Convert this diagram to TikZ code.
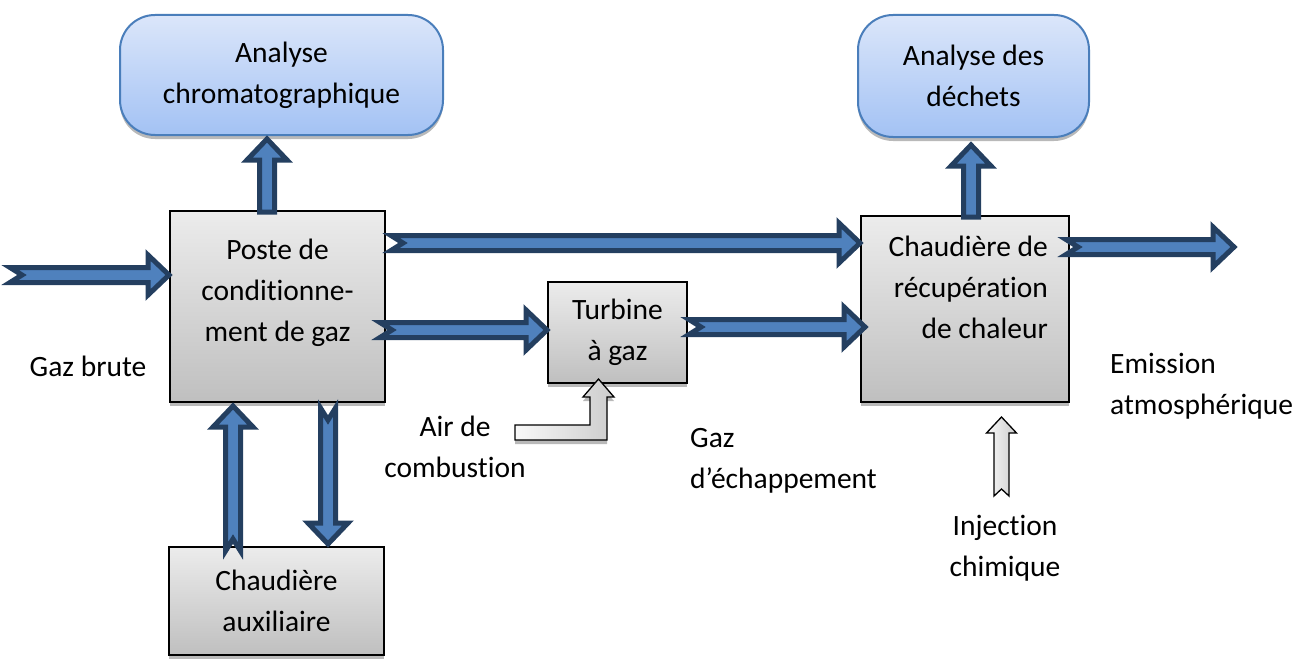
\documentclass[tikz,border=0pt]{standalone}
\usepackage{fontspec}
\setmainfont{Carlito}[Ligatures=NoCommon]
\usetikzlibrary{calc,shadows}

\definecolor{flowfill}{HTML}{4F81BD}
\definecolor{flowline}{HTML}{243F60}
\definecolor{labline}{HTML}{4A7EBB}
\definecolor{labtop}{HTML}{DBE6FA}
\definecolor{labbot}{HTML}{A3C2F4}

\tikzset{
  blockpath/.style n args={4}{to path={
    ($(\tikztostart)!#1!90:(\tikztotarget)$)
    -- ($($(\tikztotarget)!#3!(\tikztostart)$)!#1!90:(\tikztotarget)$)
    -- ($($(\tikztotarget)!#3!(\tikztostart)$)!#2!90:(\tikztotarget)$)
    -- (\tikztotarget)
    -- ($($(\tikztotarget)!#3!(\tikztostart)$)!#2!-90:(\tikztotarget)$)
    -- ($($(\tikztotarget)!#3!(\tikztostart)$)!#1!-90:(\tikztotarget)$)
    -- ($(\tikztostart)!#1!-90:(\tikztotarget)$)
    -- ($(\tikztostart)!#4!(\tikztotarget)$)
    -- cycle}},
  flow/.style={blockpath={7.5pt}{20pt}{21pt}{#1},
    draw=flowline, line width=5pt, fill=flowfill},
  flow/.default=12pt,
  feed/.style={draw=black, line width=1.3pt, left color=gray!5, right color=gray!40},
  feedarrow/.style={feed, blockpath={7.5pt}{15pt}{16pt}{7pt}},
  boxshadow/.style={drop shadow={shadow xshift=0pt, shadow yshift=-4pt, fill=gray!55, opacity=1}},
  procbox/.style={draw=black, line width=2pt, top color=gray!15, bottom color=gray!50, boxshadow},
  labbox/.style={draw=labline, line width=2pt, rounded corners=35pt,
    top color=labtop, bottom color=labbot, boxshadow, align=center},
}

\begin{document}
\begin{tikzpicture}[x=1pt, y=-1pt, font=\fontsize{29.5}{41}\selectfont]
\useasboundingbox (0,0) rectangle (1305,658);

% analyses
\node[labbox, minimum width=323pt, minimum height=120pt] (chromato) at (281.5,75) {Analyse\\chromatographique};
\node[labbox, minimum width=231pt, minimum height=122pt] (dechets) at (973.5,76) {Analyse des\\déchets};

% process blocks
\node[procbox, minimum width=215pt, minimum height=191pt] (poste) at (277.5,306.5) {};
\node[align=center] (poste-txt) at (277.5,293) {Poste de\\conditionne-\\ment de gaz};
\node[procbox, minimum width=139pt, minimum height=101pt, align=center] (turbine) at (617.5,332.5) {Turbine\\à gaz};
\node[procbox, minimum width=208pt, minimum height=186pt] (chaudiere) at (965,309) {};
\node[align=right, anchor=east, inner sep=0pt] (chaudiere-txt) at (1048,287) {Chaudière de\\récupération\\de chaleur};
\node[procbox, minimum width=215pt, minimum height=108pt, align=center] (auxiliaire) at (276.5,601) {Chaudière\\auxiliaire};

% free labels
\node (gaz-brute) at (88,366) {Gaz brute};
\node[align=center] (air-txt) at (455,447) {Air de\\combustion};
\node[align=left, anchor=west, inner sep=0pt] (echap-txt) at (690,461) {Gaz\\d’échappement};
\node[align=left, anchor=west, inner sep=0pt] (emission-txt) at (1110,386) {Emission\\atmosphérique};
\node[align=center] (injection-txt) at (1005,548) {Injection\\chimique};

% gas flows
\coordinate (gaz-in) at (10,275);
\coordinate (poste-in) at (poste.west |- gaz-in);
\draw[flow] (gaz-in) to (poste-in);

\coordinate (poste-top) at (267,212);
\coordinate (chromato-in) at (267,139);
\draw[flow=0pt] (poste-top) to (chromato-in);

\coordinate (poste-out1) at (391,243);
\coordinate (chaudiere-in1) at (chaudiere.west |- poste-out1);
\draw[flow] (poste-out1) to (chaudiere-in1);

\coordinate (poste-out2) at (380,330);
\coordinate (turbine-in) at (turbine.west |- poste-out2);
\draw[flow] (poste-out2) to (turbine-in);

\coordinate (turbine-out) at (689,327);
\coordinate (chaudiere-in2) at (865,327);
\draw[flow] (turbine-out) to (chaudiere-in2);

\coordinate (chaudiere-top) at (971,217);
\coordinate (dechets-in) at (971,145);
\draw[flow=0pt] (chaudiere-top) to (dechets-in);

\coordinate (chaudiere-out) at (1066,247);
\coordinate (emission) at (1234,247);
\draw[flow] (chaudiere-out) to (emission);

\coordinate (aux-out) at (233,551);
\coordinate (poste-in2) at (233,406);
\draw[flow] (aux-out) to (poste-in2);

\coordinate (poste-out3) at (328,408);
\coordinate (aux-in) at (328,544);
\draw[flow] (poste-out3) to (aux-in);

% air and chemicals
\coordinate (air-in) at (515,432.5);
\draw[feed, boxshadow] (air-in) ++(0,-7.5) -| (590,397) -- (583,397) -- (598.5,379)
  -- (614,397) -- (607,397) |- ($(air-in)+(0,7.5)$) -- cycle;

\coordinate (inj-src) at (1001.5,496);
\coordinate (chaudiere-inj) at (1001.5,417);
\draw[feedarrow] (inj-src) to (chaudiere-inj);

\end{tikzpicture}
\end{document}
